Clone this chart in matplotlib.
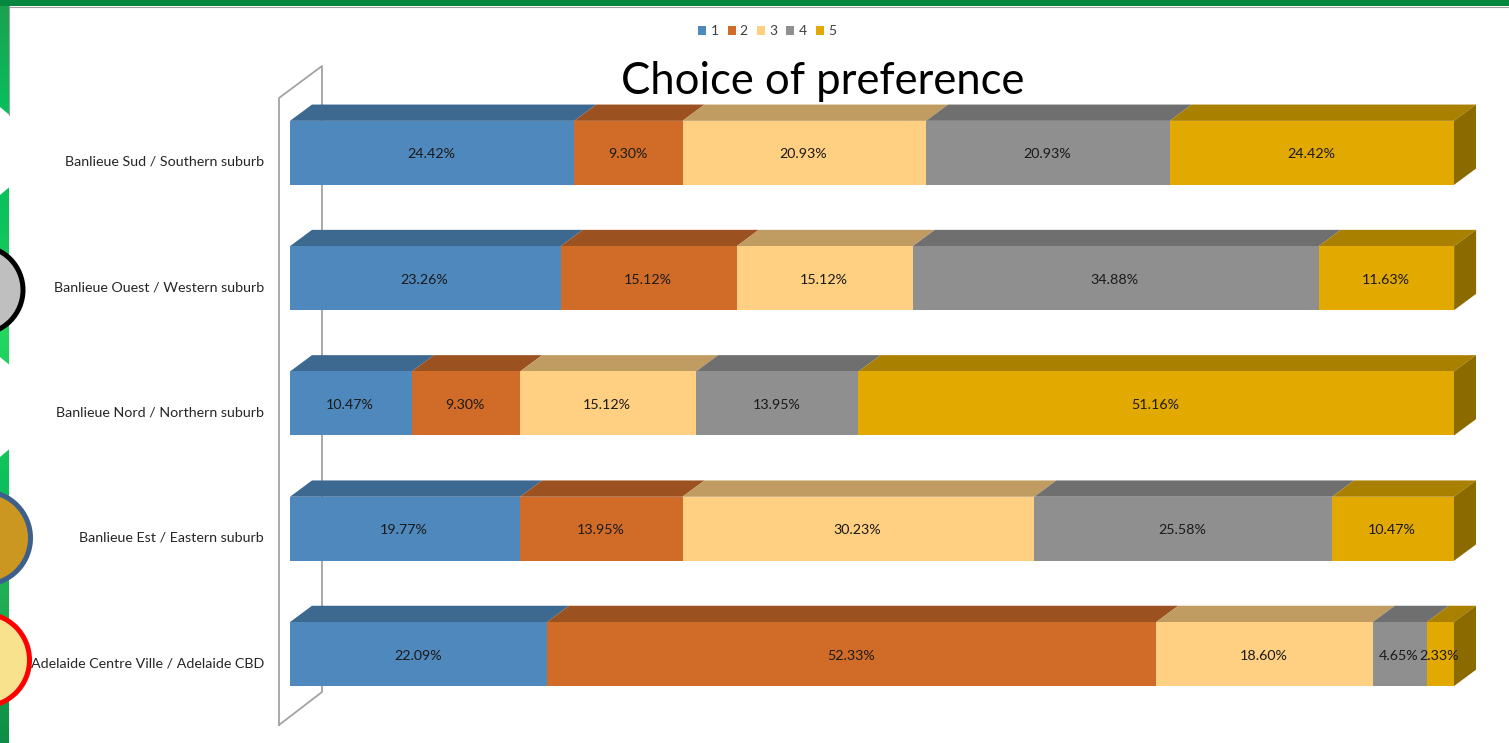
import matplotlib
matplotlib.use("Agg")
import matplotlib.pyplot as plt
import numpy as np
from matplotlib.patches import Circle, Polygon
from matplotlib.transforms import ScaledTranslation

plt.rcParams['font.family'] = ['Lato', 'DejaVu Sans']

W, H = 1509, 743

suburbs = ['Banlieue Sud / Southern suburb', 'Banlieue Ouest / Western suburb',
           'Banlieue Nord / Northern suburb', 'Banlieue Est / Eastern suburb',
           'Adelaide Centre Ville / Adelaide CBD']
series_names = ['1', '2', '3', '4', '5']
s1 = [24.42, 23.26, 10.47, 19.77, 22.09]
s2 = [9.30, 15.12, 9.30, 13.95, 52.33]
s3 = [20.93, 15.12, 15.12, 30.23, 18.60]
s4 = [20.93, 34.88, 13.95, 25.58, 4.65]
s5 = [24.42, 11.63, 51.16, 10.47, 2.33]

front = ['#4f88bd', '#d16c28', '#ffcf82', '#8f8f8f', '#e2a900']
top = ['#3d6890', '#9b5220', '#c09c62', '#6f6f6f', '#a98000']
side = '#8b6a00'

fig = plt.figure(figsize=(W / 100, H / 100), dpi=100, facecolor='white')

# slide background, in pixels
bg = fig.add_axes([0, 0, 1, 1], zorder=0)
bg.set_xlim(0, W)
bg.set_ylim(H, 0)
bg.axis('off')

# green strip, drawn as thin bands for the gradient
stops = [0, 110, 220, 330, 480, 600, 743]
greens = np.array([[0.10, 0.63, 0.31], [0.03, 0.75, 0.36], [0.05, 0.76, 0.36],
                   [0.14, 0.84, 0.37], [0.05, 0.75, 0.36], [0.13, 0.68, 0.33],
                   [0.05, 0.55, 0.27]])
edges = np.arange(0, H + 4, 4)
for y0, y1 in zip(edges[:-1], edges[1:]):
    col = [np.interp(y0, stops, greens[:, k]) for k in range(3)]
    bg.fill_between([0, 9], y0, y1 + 0.5, color=col, lw=0, zorder=1)

# white notches cut out of the strip
bg.add_patch(Polygon([(0, 107), (9.5, 115), (9.5, 187), (0, 195)], fc='white', ec='none', zorder=2))
bg.add_patch(Polygon([(0, 357), (9.5, 365), (9.5, 449), (0, 457)], fc='white', ec='none', zorder=2))
bg.fill_between([0, W], 0, 6, color='#05873f', lw=0, zorder=2)
bg.plot([9, W], [6.5, 6.5], color='#a0a0a0', lw=0.8, zorder=2)
bg.plot([8.6, 8.6], [6, 115], color='#a0a0a0', lw=0.8, zorder=2)
bg.add_patch(Circle((-21, 290), 44, fc='#bfbfbf', ec='black', lw=3.6, zorder=3))
bg.add_patch(Circle((-16, 538), 46.5, fc='#cc9721', ec='#3c5f8c', lw=3.6, zorder=3))
bg.add_patch(Circle((-17, 660), 46.5, fc='#f8e28e', ec='#fe0000', lw=3.6, zorder=3))

# chart wall
bg.plot([279, 279, 322, 322, 279], [725, 98, 66, 692, 725], color='#a3a3a3', lw=1.3, zorder=2)

ax = fig.add_axes([290 / W, 1 - 716.7 / H, 1164 / W, 626.5 / H], zorder=1)
ax.patch.set_alpha(0)
ax.set_xlim(0, 100)
ax.set_ylim(4.5, -0.5)
for s in ax.spines.values():
    s.set_visible(False)
ax.tick_params(axis='x', bottom=False, labelbottom=False)
ax.tick_params(axis='y', length=0, pad=18.7)

y = np.arange(len(suburbs))
bar_h = 64 / 125.3
dx = 22 / 1164 * 100
dy = 16.3 / 125.3
label_drop = 1.5 / 125.3

rows = [s1, s2, s3, s4, s5]
left = np.zeros(len(suburbs))
for vals, name, c, tc in zip(rows, series_names, front, top):
    vals = np.array(vals)
    ax.barh(y, vals, left=left, height=bar_h, color=c, label=name, lw=0, zorder=3)
    for i in y:
        yt = i - bar_h / 2
        ax.add_patch(Polygon([(left[i], yt), (left[i] + vals[i], yt),
                              (left[i] + vals[i] + dx, yt - dy), (left[i] + dx, yt - dy)],
                             fc=tc, ec='none', clip_on=False, zorder=2))
        ax.text(left[i] + vals[i] / 2 - 0.08, i + label_drop, '%.2f%%' % vals[i], ha='center', va='center',
                fontsize=10.3, color='#1a1a1a', zorder=5)
    left = left + vals

# right side of the stack
for i in y:
    yt, yb = i - bar_h / 2, i + bar_h / 2
    ax.add_patch(Polygon([(left[i], yt), (left[i] + dx, yt - dy), (left[i] + dx, yb - dy), (left[i], yb)],
                         fc=side, ec='none', clip_on=False, zorder=2))

ax.set_yticks(y)
ax.set_yticklabels(suburbs, fontsize=10.3, color='#262626')
shift = ScaledTranslation(0, -8 / 100, fig.dpi_scale_trans)
for lab in ax.get_yticklabels():
    lab.set_transform(lab.get_transform() + shift)

ax.set_title('Choice of preference', fontsize=31.4, color='black',
             x=(823 - 290) / 1164, y=(716.7 - 94.5) / 626.5, va='baseline', pad=0)

ax.legend(loc='center', bbox_to_anchor=(767 / W, 1 - 31 / H), bbox_transform=fig.transFigure,
          ncols=5, frameon=False, fontsize=10, handlelength=0.58, handleheight=0.6,
          handletextpad=0.3, columnspacing=0.65, labelcolor='#404040')

fig.savefig('out.png', dpi=100)
